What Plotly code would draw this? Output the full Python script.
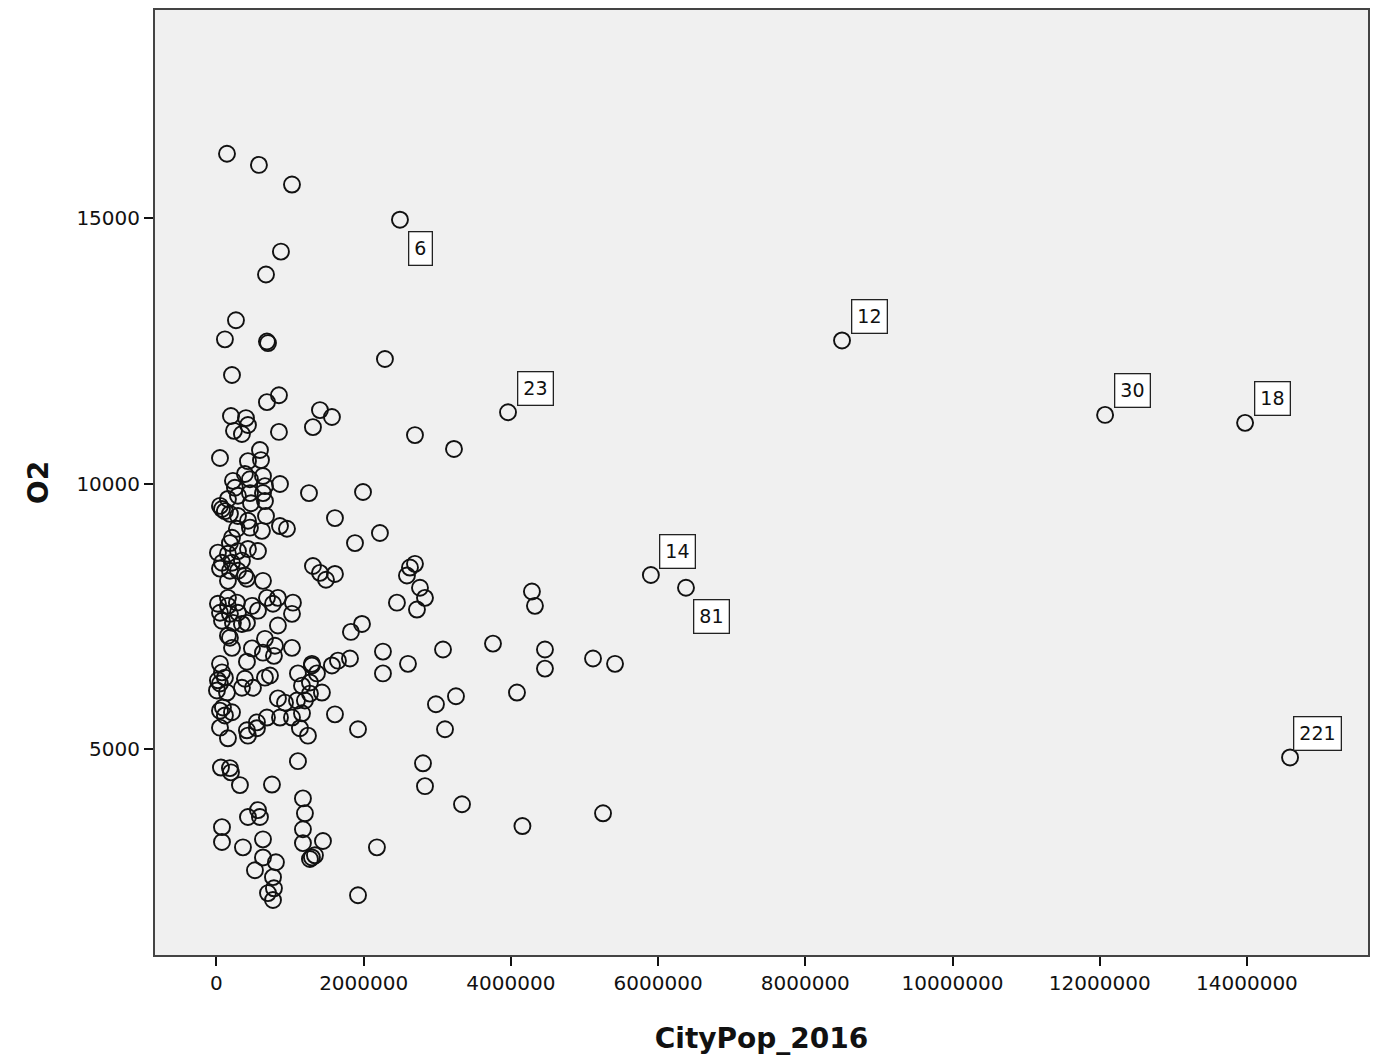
import plotly.graph_objects as go

# CityPop_2016 (x) and O2 (y) values
city_pop = [
    143000, 577000, 1026000, 2493000, 876000, 673000, 265000, 115000, 686000, 700000,
    2289000, 211000, 849000, 686000, 1406000, 1569000, 1311000, 197000, 401000, 428000,
    238000, 346000, 849000, 2697000, 3227000, 48000, 591000, 605000, 428000, 3961000,
    8499000, 12073000, 13975000, 387000, 224000, 455000, 632000, 863000, 659000, 251000,
    292000, 455000, 632000, 659000, 469000, 156000, 1257000, 1991000, 48000, 75000,
    115000, 183000, 292000, 428000, 455000, 618000, 673000, 278000, 863000, 958000,
    1610000, 211000, 2221000, 1882000, 183000, 20000, 156000, 292000, 75000, 211000,
    346000, 48000, 183000, 292000, 387000, 156000, 428000, 564000, 414000, 632000,
    1311000, 1406000, 1610000, 1488000, 2697000, 2629000, 2588000, 5902000, 6379000, 4286000,
    4327000, 156000, 20000, 156000, 278000, 48000, 183000, 292000, 75000, 224000,
    346000, 414000, 482000, 686000, 835000, 768000, 564000, 1039000, 1026000, 835000,
    2765000, 2833000, 2452000, 2724000, 156000, 211000, 482000, 659000, 795000, 1026000,
    632000, 781000, 414000, 1827000, 1977000, 2262000, 2602000, 2262000, 3078000, 1814000,
    1651000, 1569000, 1297000, 3757000, 4463000, 4463000, 5116000, 5415000, 183000, 48000,
    75000, 20000, 115000, 7000, 143000, 48000, 387000, 346000, 496000, 659000,
    727000, 88000, 48000, 211000, 115000, 48000, 156000, 414000, 550000, 428000,
    550000, 686000, 863000, 1026000, 1162000, 835000, 931000, 1094000, 1202000, 1270000,
    1433000, 1107000, 1297000, 1365000, 1270000, 1162000, 1134000, 1243000, 1610000, 1923000,
    2982000, 3254000, 3105000, 4083000, 14586000, 61000, 183000, 1107000, 2806000, 197000,
    319000, 754000, 1175000, 1202000, 1175000, 1175000, 1447000, 1297000, 1338000, 1270000,
    564000, 591000, 428000, 75000, 75000, 360000, 632000, 632000, 808000, 523000,
    768000, 781000, 700000, 768000, 2180000, 1923000, 2833000, 3336000, 5252000, 4157000,
]

o2 = [
    16200, 15990, 15620, 14960, 14360, 13930, 13070, 12710, 12670, 12640,
    12340, 12040, 11660, 11530, 11380, 11250, 11060, 11270, 11230, 11100,
    10990, 10930, 10970, 10910, 10650, 10480, 10630, 10440, 10420, 11340,
    12690, 11290, 11140, 10180, 10050, 10080, 10140, 9990, 9950, 9920,
    9770, 9820, 9820, 9670, 9630, 9710, 9820, 9840, 9580, 9520,
    9480, 9430, 9390, 9300, 9170, 9110, 9390, 9150, 9200, 9150,
    9350, 8980, 9070, 8880, 8880, 8700, 8680, 8730, 8510, 8510,
    8550, 8400, 8360, 8360, 8270, 8170, 8770, 8730, 8210, 8170,
    8450, 8320, 8300, 8190, 8490, 8420, 8270, 8280, 8040, 7970,
    7700, 7850, 7740, 7700, 7760, 7570, 7550, 7570, 7420, 7380,
    7360, 7380, 7700, 7850, 7850, 7740, 7610, 7760, 7550, 7330,
    8040, 7850, 7760, 7630, 7140, 6910, 6900, 7080, 6950, 6910,
    6820, 6760, 6650, 7210, 7360, 6840, 6610, 6430, 6880, 6710,
    6670, 6580, 6580, 6990, 6880, 6520, 6710, 6610, 7100, 6610,
    6450, 6300, 6350, 6110, 6070, 6240, 6330, 6160, 6160, 6350,
    6390, 5790, 5730, 5700, 5640, 5410, 5210, 5360, 5400, 5260,
    5510, 5600, 5600, 5600, 5680, 5960, 5880, 5920, 5920, 6050,
    6070, 6430, 6610, 6430, 6260, 6200, 5400, 5260, 5660, 5380,
    5850, 6000, 5380, 6070, 4850, 4660, 4650, 4780, 4740, 4570,
    4330, 4340, 4080, 3800, 3500, 3240, 3280, 2970, 3010, 2940,
    3860, 3730, 3730, 3540, 3260, 3160, 3310, 2970, 2880, 2730,
    2600, 2390, 2300, 2170, 3160, 2260, 4310, 3970, 3800, 3560,
]

# case-number labels for the marked outliers ("" = unlabeled)
case_labels = [""] * len(o2)
case_labels[3] = "6"
case_labels[29] = "23"
case_labels[30] = "12"
case_labels[31] = "30"
case_labels[32] = "18"
case_labels[87] = "14"
case_labels[88] = "81"
case_labels[184] = "221"

x_ticks = [0, 2000000, 4000000, 6000000, 8000000, 10000000, 12000000, 14000000]
y_ticks = [5000, 10000, 15000]

# label box offsets (pixels) relative to their point
label_offsets = {"6": (21, 29), "81": (26, 29)}
default_offset = (27, -24)

FONT = "DejaVu Sans, Verdana, sans-serif"

fig = go.Figure()
fig.add_trace(go.Scatter(
    x=city_pop, y=o2, mode="markers",
    marker=dict(symbol="circle-open", size=16, color="#111111",
                line=dict(width=1.9, color="#111111")),
    hoverinfo="x+y", showlegend=False,
))

for xv, yv, lab in zip(city_pop, o2, case_labels):
    if not lab:
        continue
    dx, dy = label_offsets.get(lab, default_offset)
    fig.add_annotation(
        x=xv, y=yv, text=lab, showarrow=True, arrowcolor="rgba(0,0,0,0)",
        arrowwidth=0.1, arrowhead=0, ax=dx, ay=dy,
        bgcolor="white", bordercolor="#222222", borderwidth=1.3, borderpad=5,
        font=dict(family=FONT, size=19, color="#111111"),
    )

fig.update_layout(
    width=1380, height=1049,
    margin=dict(l=147, r=20, t=0, b=102),
    paper_bgcolor="white", plot_bgcolor="#F0F0F0",
    font=dict(family=FONT, color="#111111"),
)
fig.update_xaxes(
    range=[-835000, 15645000], tickvals=x_ticks, tickformat="d",
    showgrid=False, zeroline=False,
    showline=True, mirror=True, linecolor="#444444", linewidth=2,
    ticks="outside", ticklen=9, tickcolor="#111111", tickwidth=1.5,
    tickfont=dict(size=20),
    title=dict(text="<b>CityPop_2016</b>", font=dict(size=28), standoff=34),
)
fig.update_yaxes(
    range=[1136, 18902], tickvals=y_ticks, tickformat="d",
    showgrid=False, zeroline=False,
    showline=True, mirror=True, linecolor="#444444", linewidth=2,
    ticks="outside", ticklen=9, tickcolor="#111111", tickwidth=1.5,
    tickfont=dict(size=20),
    title=dict(text="<b>O2</b>", font=dict(size=28), standoff=20),
)

fig.write_html("out.html")
